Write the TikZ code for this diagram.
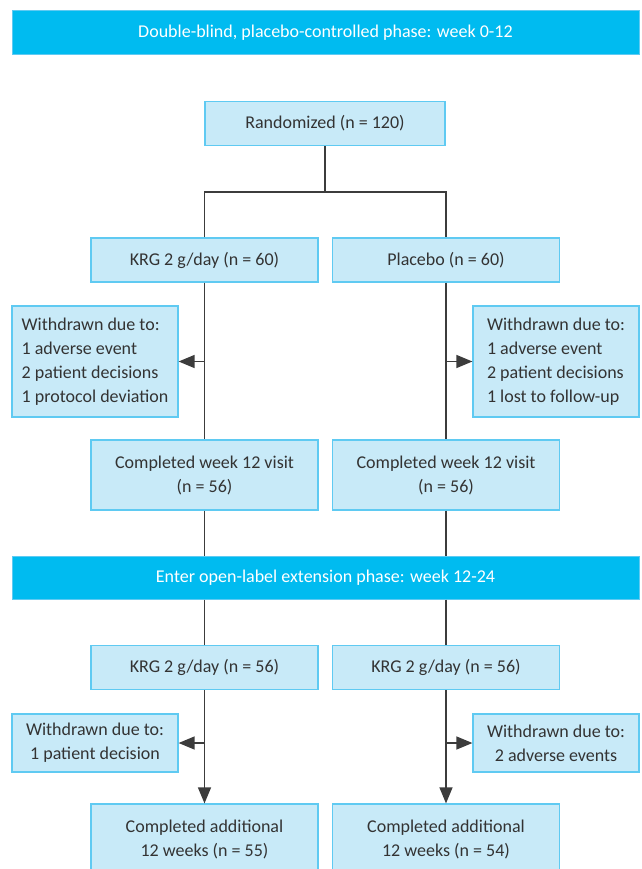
\documentclass[tikz,border=0pt]{standalone}
\usepackage{fontspec}
\setmainfont{Carlito}
\usetikzlibrary{arrows.meta}
\definecolor{banblue}{RGB}{0,187,240}
\definecolor{boxfill}{RGB}{200,234,248}
\definecolor{boxline}{RGB}{95,202,242}
\definecolor{txtgray}{RGB}{51,51,51}
\definecolor{linegray}{RGB}{60,60,60}

\begin{document}
\begin{tikzpicture}[x=1pt,y=-1pt,
    phase/.style={fill=banblue,draw=boxline,line width=1pt,text=white,minimum width=627pt,minimum height=44pt,font=\fontsize{18}{24}\selectfont},
    arm/.style={fill=boxfill,draw=boxline,line width=1.2pt,text=txtgray,minimum width=227pt,minimum height=44pt,align=center,font=\fontsize{18}{24}\selectfont},
    wd/.style={arm,minimum width=166pt},
    flow/.style={draw=linegray,line width=1.3pt},
    arr/.style={flow,-{Triangle[length=16pt,width=13pt]}}]
        \clip (0,0) rectangle (641,869);

        % double-blind phase
        \node[phase] (banA) at (325.5,32.5) {Double-blind, placebo-controlled phase: week 0-12};
        \node[arm,minimum width=240pt] (rand) at (325,123.5) {Randomized (n = 120)};
        \coordinate (split) at (325,192);
        \node[arm] (krgA) at (204.5,260) {KRG 2 g/day (n = 60)};
        \node[arm] (plac) at (446,260) {Placebo (n = 60)};
        \node[wd,minimum height=111pt,align=left] (wdA1) at (95,361.5) {Withdrawn due to:\\1 adverse event\\2 patient decisions\\1 protocol deviation};
        \node[wd,minimum height=111pt,align=left] (wdB1) at (556,361.5) {Withdrawn due to:\\1 adverse event\\2 patient decisions\\1 lost to follow-up};
        \node[arm,minimum height=70pt] (compA) at (204.5,475) {Completed week 12 visit\\(n = 56)};
        \node[arm,minimum height=70pt] (compB) at (446,475) {Completed week 12 visit\\(n = 56)};

        % open-label phase
        \node[phase,minimum height=43pt] (banB) at (325.5,577.5) {Enter open-label extension phase: week 12-24};
        \node[arm] (krgB1) at (204.5,667.5) {KRG 2 g/day (n = 56)};
        \node[arm] (krgB2) at (446,667.5) {KRG 2 g/day (n = 56)};
        \node[wd,minimum height=58pt] (wdA2) at (95,743) {Withdrawn due to:\\1 patient decision};
        \node[wd,minimum height=58pt] (wdB2) at (556,743) {Withdrawn due to:\\2 adverse events};
        \node[arm,minimum height=70pt] (finA) at (204.5,839) {Completed additional\\12 weeks (n = 55)};
        \node[arm,minimum height=70pt] (finB) at (446,839) {Completed additional\\12 weeks (n = 54)};

        \path[flow] (rand) edge (split);
        \draw[flow] (krgA) |- (split) -| (plac);
        \path[flow] (krgA) edge (compA);
        \path[flow] (plac) edge (compB);
        \draw[arr] (krgA |- wdA1) -- (wdA1);
        \draw[arr] (plac |- wdB1) -- (wdB1);
        \draw[flow] (compA) -- (compA |- banB.north);
        \draw[flow] (compB) -- (compB |- banB.north);
        \draw[flow] (compA |- banB.south) -- (krgB1);
        \draw[flow] (compB |- banB.south) -- (krgB2);
        \draw[arr] (krgB1 |- wdA2) -- (wdA2);
        \draw[arr] (krgB2 |- wdB2) -- (wdB2);
        \draw[arr] (krgB1) -- (finA);
        \draw[arr] (krgB2) -- (finB);
\end{tikzpicture}
\end{document}
